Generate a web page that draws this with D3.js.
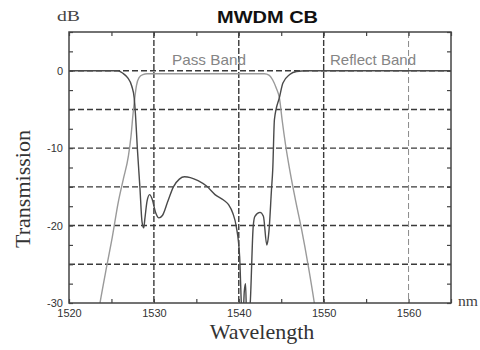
<!DOCTYPE html>
<html>
<head>
<meta charset="utf-8">
<script src="https://cdn.jsdelivr.net/npm/d3@7"></script>
<style>
  body { margin: 0; background: #fff; }
  svg { display: block; }
</style>
</head>
<body>
<div id="chart"></div>
<script>
// chart values
const xTicks = [1520, 1530, 1540, 1550, 1560];
const yTicks = [0, -10, -20, -30];
const xGrid = [1530, 1540, 1550];
const xGridLight = [1560];
const yGrid = [0, -5, -10, -15, -20, -25];

// pass band curve (light grey)
const passWl = [1523.2, 1523.65, 1524.4, 1525.1, 1525.8, 1526.4, 1527.0, 1527.3, 1527.55, 1527.75, 1527.95, 1528.25, 1528.7, 1529.2,
  1535, 1543.0, 1543.6, 1544.0, 1544.4, 1544.8, 1545.1, 1545.5, 1546.0, 1546.7, 1547.4, 1548.2, 1548.9, 1549.3];
const passDb = [-33, -30, -25.5, -21.5, -17, -14, -11, -8.5, -5.5, -3.5, -1.9, -0.9, -0.5, -0.4,
  -0.4, -0.4, -0.6, -1.2, -2.2, -3.6, -6.3, -9.5, -12.8, -16.8, -20.5, -25.3, -30, -33];

// reflect band curve (dark grey)
const reflWl = [1520, 1525.8, 1526.3, 1526.9, 1527.4, 1527.68, 1527.85, 1528.05, 1528.35, 1528.6, 1528.8, 1528.95, 1529.2, 1529.5,
  1529.8, 1530.2, 1530.6, 1531.0, 1531.6, 1532.3, 1533.0, 1533.6, 1534.3, 1535.2, 1536.2, 1537.2, 1538.2, 1538.8,
  1539.3, 1539.7, 1540.1, 1540.3, 1540.45, 1540.65, 1540.8, 1540.95, 1541.2, 1541.35, 1541.7, 1541.9, 1542.5,
  1542.9, 1543.3, 1543.45, 1543.6, 1543.85, 1544.0, 1544.2, 1544.8, 1545.2, 1546.0, 1546.8, 1548, 1565];
const reflDb = [0, 0, -0.3, -0.9, -2.0, -3.5, -6, -10, -15, -19.5, -20.3, -19, -16.8, -16.0,
  -16.6, -18.3, -19.0, -18.7, -17.0, -15.0, -14.0, -13.7, -13.8, -14.2, -14.9, -16.0, -16.7, -17.3,
  -18.4, -20.1, -24, -30, -33, -28.5, -27.5, -33, -32, -30, -20.1, -18.8, -18.3,
  -18.8, -22.5, -21.8, -20.1, -15.4, -12.8, -6.3, -3.4, -1.6, -0.5, -0.1, 0, 0];

const width = 480;
const height = 350;
const margin = { top: 32, right: 29, bottom: 47, left: 69 };

const svg = d3
  .select("#chart")
  .append("svg")
  .attr("width", width)
  .attr("height", height);

const x = d3.scaleLinear().domain([1520, 1565]).range([margin.left, width - margin.right]);
const y = d3.scaleLinear().domain([-30, 5]).range([height - margin.bottom, margin.top]);

svg
  .append("defs")
  .append("clipPath")
  .attr("id", "plot-clip")
  .append("rect")
  .attr("x", margin.left)
  .attr("y", margin.top)
  .attr("width", x(1565) - x(1520))
  .attr("height", y(-30) - y(5));

// grid lines
svg
  .append("g")
  .selectAll("line")
  .data(yGrid)
  .enter()
  .append("line")
  .attr("x1", x(1520))
  .attr("x2", x(1565))
  .attr("y1", (d) => y(d))
  .attr("y2", (d) => y(d))
  .attr("stroke", "#3a3a3a")
  .attr("stroke-width", 1.4)
  .attr("stroke-dasharray", "6,3");

svg
  .append("g")
  .selectAll("line")
  .data(xGrid)
  .enter()
  .append("line")
  .attr("x1", (d) => x(d))
  .attr("x2", (d) => x(d))
  .attr("y1", y(5))
  .attr("y2", y(-30))
  .attr("stroke", "#3a3a3a")
  .attr("stroke-width", 1.4)
  .attr("stroke-dasharray", "6,2");

svg
  .append("g")
  .selectAll("line")
  .data(xGridLight)
  .enter()
  .append("line")
  .attr("x1", (d) => x(d))
  .attr("x2", (d) => x(d))
  .attr("y1", y(5))
  .attr("y2", y(-30))
  .attr("stroke", "#8a8a8a")
  .attr("stroke-width", 1)
  .attr("stroke-dasharray", "6,3");

// curves
const line = d3
  .line()
  .x((d) => x(d[0]))
  .y((d) => y(d[1]))
  .curve(d3.curveMonotoneX);

const curves = svg.append("g").attr("clip-path", "url(#plot-clip)");

curves
  .append("path")
  .datum(d3.zip(passWl, passDb))
  .attr("fill", "none")
  .attr("stroke", "#9a9a9a")
  .attr("stroke-width", 1.4)
  .attr("d", line);

curves
  .append("path")
  .datum(d3.zip(reflWl, reflDb))
  .attr("fill", "none")
  .attr("stroke", "#4a4a4a")
  .attr("stroke-width", 1.4)
  .attr("d", line);

// axes with small inward ticks
const minorX = d3.range(1520, 1566, 5);
const minorY = d3.range(-30, 5.1, 2.5);
const fmtX = (d) => (xTicks.includes(d) ? d : "");
const fmtY = (d) => (yTicks.includes(d) ? d : "");

function styleAxis(g) {
  g.select(".domain").remove();
  g.selectAll(".tick line").attr("stroke", "#444").attr("stroke-width", 1.2);
  g.selectAll(".tick text")
    .attr("fill", "#333")
    .style("font-family", "'Liberation Sans', Arial, sans-serif")
    .style("font-size", "11px");
}

svg
  .append("g")
  .attr("transform", `translate(0,${y(-30)})`)
  .call(d3.axisBottom(x).tickValues(minorX).tickFormat(fmtX).tickSizeInner(-4).tickSizeOuter(0).tickPadding(6))
  .call(styleAxis);

svg
  .append("g")
  .attr("transform", `translate(0,${y(5)})`)
  .call(d3.axisTop(x).tickValues(minorX).tickFormat("").tickSizeInner(-4).tickSizeOuter(0))
  .call(styleAxis);

svg
  .append("g")
  .attr("transform", `translate(${x(1520)},0)`)
  .call(d3.axisLeft(y).tickValues(minorY).tickFormat(fmtY).tickSizeInner(-4).tickSizeOuter(0).tickPadding(6))
  .call(styleAxis);

svg
  .append("g")
  .attr("transform", `translate(${x(1565)},0)`)
  .call(d3.axisRight(y).tickValues(minorY).tickFormat("").tickSizeInner(-4).tickSizeOuter(0))
  .call(styleAxis);

// frame
svg
  .append("rect")
  .attr("x", x(1520))
  .attr("y", y(5))
  .attr("width", x(1565) - x(1520))
  .attr("height", y(-30) - y(5))
  .attr("fill", "none")
  .attr("stroke", "#444")
  .attr("stroke-width", 1.5);

// band labels
svg
  .append("text")
  .attr("x", 172)
  .attr("y", 65)
  .attr("textLength", 74)
  .attr("lengthAdjust", "spacingAndGlyphs")
  .text("Pass Band")
  .style("font-family", "'Liberation Sans', Arial, sans-serif")
  .style("font-size", "14.5px")
  .style("fill", "#858585");

svg
  .append("text")
  .attr("x", 330)
  .attr("y", 65)
  .attr("textLength", 86)
  .attr("lengthAdjust", "spacingAndGlyphs")
  .text("Reflect Band")
  .style("font-family", "'Liberation Sans', Arial, sans-serif")
  .style("font-size", "14.5px")
  .style("fill", "#858585");

// title and axis titles
svg
  .append("text")
  .attr("x", 217)
  .attr("y", 23)
  .attr("textLength", 101)
  .attr("lengthAdjust", "spacingAndGlyphs")
  .text("MWDM CB")
  .style("font-family", "'Liberation Sans', Arial, sans-serif")
  .style("font-weight", "bold")
  .style("font-size", "17px")
  .style("fill", "#111");

svg
  .append("text")
  .attr("x", 57)
  .attr("y", 21)
  .attr("textLength", 23)
  .attr("lengthAdjust", "spacingAndGlyphs")
  .text("dB")
  .style("font-family", "'Liberation Serif', 'Times New Roman', serif")
  .style("font-size", "14px")
  .style("fill", "#444");

svg
  .append("text")
  .attr("x", 458)
  .attr("y", 306)
  .attr("textLength", 20)
  .attr("lengthAdjust", "spacingAndGlyphs")
  .text("nm")
  .style("font-family", "'Liberation Serif', 'Times New Roman', serif")
  .style("font-size", "14px")
  .style("fill", "#444");

svg
  .append("text")
  .attr("x", 262)
  .attr("y", 339)
  .attr("text-anchor", "middle")
  .text("Wavelength")
  .style("font-family", "'Liberation Serif', 'Times New Roman', serif")
  .style("font-size", "22px")
  .style("fill", "#333");

svg
  .append("text")
  .attr("transform", "translate(30,189) rotate(-90)")
  .attr("text-anchor", "middle")
  .text("Transmission")
  .style("font-family", "'Liberation Serif', 'Times New Roman', serif")
  .style("font-size", "22px")
  .style("fill", "#333");
</script>
</body>
</html>
